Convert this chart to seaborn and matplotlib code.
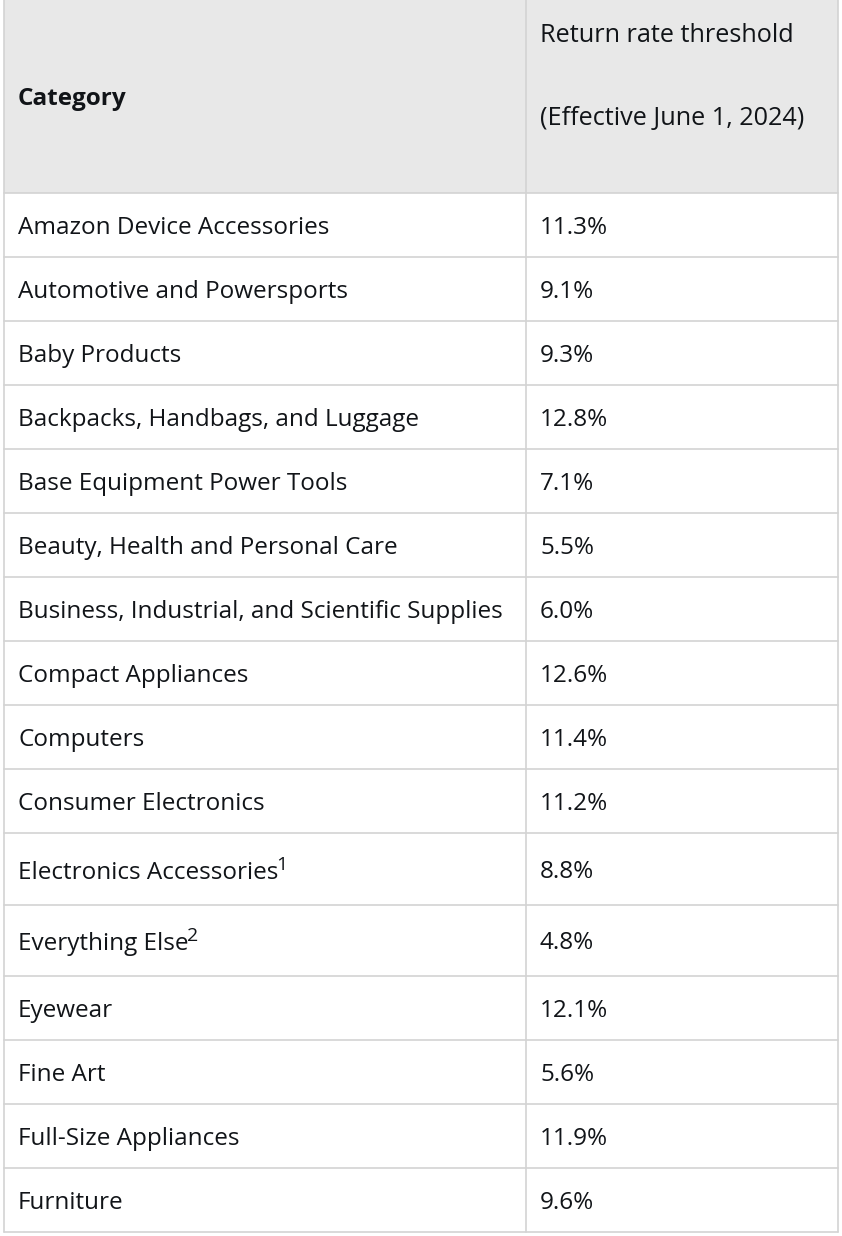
"""Amazon return-rate thresholds by category, drawn as a two-column table."""
import matplotlib
matplotlib.use("Agg")
import matplotlib.pyplot as plt
import seaborn as sns

categories = [
    "Amazon Device Accessories",
    "Automotive and Powersports",
    "Baby Products",
    "Backpacks, Handbags, and Luggage",
    "Base Equipment Power Tools",
    "Beauty, Health and Personal Care",
    "Business, Industrial, and Scientific Supplies",
    "Compact Appliances",
    "Computers",
    "Consumer Electronics",
    "Electronics Accessories",
    "Everything Else",
    "Eyewear",
    "Fine Art",
    "Full-Size Appliances",
    "Furniture",
]
footnotes = ["", "", "", "", "", "", "", "", "", "", "1", "2", "", "", "", ""]
thresholds = [11.3, 9.1, 9.3, 12.8, 7.1, 5.5, 6.0, 12.6, 11.4, 11.2,
              8.8, 4.8, 12.1, 5.6, 11.9, 9.6]
header_left = "Category"
header_right = ["Return rate threshold", "(Effective June 1, 2024)"]

sns.set_theme(style="white")
plt.rcParams["font.family"] = ["Open Sans", "DejaVu Sans"]

TEXT = "#111418"
LINE = "#d3d3d3"
HEAD_BG = "#e8e8e8"
FS = 17.5
FS_HEAD = 18.2

W, H = 842, 1236
x_left, x_split, x_right = 4, 526, 838
header_bottom = 193
base_h, note_h = 64, 71.5

fig = plt.figure(figsize=(W / 100, H / 100), dpi=100)
ax = fig.add_axes([0, 0, 1, 1])
ax.set_xlim(0, W)
ax.set_ylim(H, 0)
ax.axis("off")
renderer = fig.canvas.get_renderer()

# header band
ax.add_patch(plt.Rectangle((x_left, 0), x_right - x_left, header_bottom,
                           facecolor=HEAD_BG, edgecolor="none", zorder=0))
ax.text(18, 99, header_left, fontsize=FS, fontweight="bold", color=TEXT, va="center")
ax.text(540, 36, header_right[0], fontsize=FS_HEAD, color=TEXT, va="center")
ax.text(540, 119, header_right[1], fontsize=FS_HEAD, color=TEXT, va="center")

# body rows
y = header_bottom
edges = [y]
for cat, note, val in zip(categories, footnotes, thresholds):
    h = note_h if note else base_h
    mid = y + h / 2
    t = ax.text(18, mid + 4 if note else mid + 3, cat, fontsize=FS, color=TEXT, va="center")
    if note:
        # superscript footnote marker placed right after the label
        bb = t.get_window_extent(renderer)
        x_end = ax.transData.inverted().transform((bb.x1, bb.y1))[0]
        ax.text(x_end - 2, mid - 4, note, fontsize=FS * 0.8, color=TEXT, va="center")
    ax.text(540, mid + 3, f"{val:.1f}%", fontsize=FS, color=TEXT, va="center")
    y += h
    edges.append(y)

for e in edges:
    ax.plot([x_left, x_right], [e, e], color=LINE, lw=1.2, zorder=1)
for xv in (x_left, x_split, x_right):
    ax.plot([xv, xv], [0, edges[-1]], color=LINE, lw=1.2, zorder=1)

fig.savefig("out.png", dpi=100, facecolor="white")
